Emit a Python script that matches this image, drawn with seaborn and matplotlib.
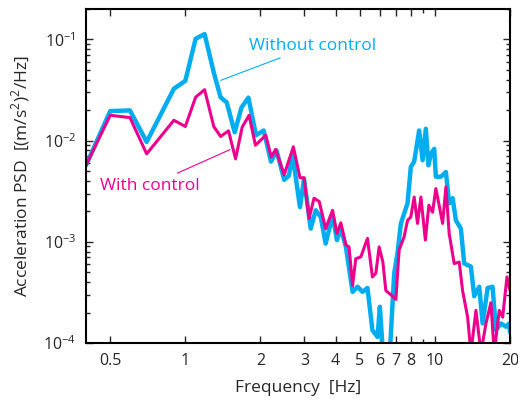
import seaborn as sns
import matplotlib.pyplot as plt
import numpy as np
import pandas as pd

# Without control (cyan)
freq_wo = [0.40, 0.50, 0.60, 0.70, 0.90, 1.00, 1.10, 1.195, 1.30, 1.385,
           1.465, 1.577, 1.68, 1.79, 1.92, 2.06, 2.205, 2.32, 2.49, 2.60,
           2.69, 2.88, 2.99, 3.18, 3.33, 3.49, 3.65, 3.89, 4.05, 4.20,
           4.40, 4.68, 4.90, 5.13, 5.37, 5.62, 5.89, 6.02, 6.19, 6.60,
           6.87, 7.08, 7.31, 7.53, 7.77, 8.01, 8.26, 8.65, 8.93, 9.20,
           9.42, 9.64, 9.94, 10.09, 10.57, 11.07, 11.41, 11.78, 12.14, 12.71,
           13.11, 13.94, 14.38, 15.06, 15.53, 16.27, 17.03, 17.57, 18.40, 19.27,
           19.87, 20.0]
psd_wo = [0.0057, 0.0196, 0.0199, 0.0097, 0.0326, 0.039, 0.1016, 0.113, 0.0472, 0.0268,
          0.0239, 0.0121, 0.0213, 0.0266, 0.0113, 0.0126, 0.0062, 0.0080, 0.0041, 0.0045,
          0.0073, 0.0022, 0.0042, 0.00135, 0.00205, 0.00176, 0.00096, 0.00183, 0.00104, 0.00135,
          0.00089, 0.00032, 0.00036, 0.00032, 0.00035, 0.000134, 0.000115, 0.000228, 0.00008, 0.00008,
          0.000486, 0.00077, 0.00152, 0.0019, 0.0024, 0.0055, 0.0062, 0.0126, 0.0064, 0.0131,
          0.0057, 0.0074, 0.0083, 0.0044, 0.0044, 0.0049, 0.0024, 0.0027, 0.00163, 0.00135,
          0.00061, 0.00057, 0.00029, 0.00036, 0.000156, 0.00035, 0.00036, 0.000134, 0.000156, 0.000145,
          0.000156, 0.000128]

# With control (magenta)
freq_w = [0.40, 0.50, 0.60, 0.70, 0.90, 1.00, 1.10, 1.195, 1.30, 1.385,
          1.49, 1.59, 1.69, 1.80, 1.91, 2.10, 2.21, 2.30, 2.49, 2.71,
          2.88, 2.99, 3.13, 3.28, 3.44, 3.65, 3.89, 4.05, 4.20, 4.40,
          4.53, 4.68, 4.82, 5.05, 5.37, 5.62, 5.80, 5.98, 6.19, 6.36,
          6.66, 6.98, 7.19, 7.53, 7.77, 8.01, 8.26, 8.52, 8.79, 9.16,
          9.46, 9.79, 10.09, 10.40, 10.74, 11.07, 11.41, 11.95, 12.52, 12.91,
          13.53, 13.94, 14.61, 15.30, 16.02, 16.77, 17.29, 18.11, 18.69, 19.45,
          20.0]
psd_w = [0.0057, 0.0178, 0.0169, 0.0074, 0.0159, 0.0138, 0.0269, 0.0319, 0.0138, 0.0110,
         0.0125, 0.0066, 0.0136, 0.0178, 0.0090, 0.0113, 0.0069, 0.0082, 0.0046, 0.0087,
         0.0043, 0.0043, 0.0017, 0.0027, 0.0025, 0.00135, 0.00205, 0.00121, 0.00154, 0.00093,
         0.00089, 0.00037, 0.00068, 0.00071, 0.00108, 0.00045, 0.00049, 0.00089, 0.00063, 0.00033,
         0.00030, 0.00027, 0.00083, 0.00112, 0.00163, 0.00176, 0.00277, 0.00152, 0.00277, 0.00104,
         0.0023, 0.00196, 0.00336, 0.0023, 0.00152, 0.00348, 0.00121, 0.00061, 0.00063, 0.00033,
         0.00018, 0.00008, 0.00021, 0.00008, 0.000156, 0.00025, 0.00008, 0.00021, 0.00018, 0.00045,
         0.00033]

xticks = [0.5, 1, 2, 3, 4, 5, 6, 7, 8, 10, 20]
xticklabels = ["0.5", "1", "2", "3", "4", "5", "6", "7", "8", "10", "20"]

cyan = "#00aeef"
magenta = "#ec008c"

sns.set_style("ticks")
plt.rcParams['font.family'] = ['Open Sans', 'DejaVu Sans']
plt.rcParams['mathtext.fontset'] = 'custom'
plt.rcParams['mathtext.rm'] = 'Open Sans'

fig = plt.figure(figsize=(5.18, 4.04), dpi=100)
ax = fig.add_axes([86/518, 1-343/404, (510-86)/518, (343-9)/404])

sns.lineplot(x=freq_wo, y=psd_wo, color=cyan, lw=3.2, ax=ax)
sns.lineplot(x=freq_w, y=psd_w, color=magenta, lw=2.2, ax=ax)

ax.set_xscale("log")
ax.set_yscale("log")
ax.set_xlim(0.4, 20)
ax.set_ylim(1e-4, 0.2)

ax.set_xticks(xticks)
ax.set_xticklabels(xticklabels)
ax.set_xticks([9], minor=True)
ax.tick_params(which="both", direction="in", top=True, right=True, labelsize=11.5, pad=7, width=1)
ax.tick_params(which="major", length=5)
ax.tick_params(which="minor", length=3)
for s in ax.spines.values():
    s.set_linewidth(1.5)
    s.set_color("black")

ax.set_xlabel("Frequency  [Hz]", fontsize=12.5, labelpad=8)
ax.set_ylabel("Acceleration PSD  [(m/s$^2$)$^2$/Hz]", fontsize=12.5, labelpad=8)

# labels with leader lines
ax.annotate("Without control", xy=(1.385, 0.0394), xytext=(1.80, 0.087),
            color=cyan, fontsize=12.5, va="center", ha="left",
            arrowprops=dict(arrowstyle="-", color=cyan, lw=0.8, shrinkA=2, shrinkB=0))
ax.annotate("With control", xy=(1.51, 0.00815), xytext=(1.14, 0.0036),
            color=magenta, fontsize=12.5, va="center", ha="right",
            arrowprops=dict(arrowstyle="-", color=magenta, lw=0.8, shrinkA=2, shrinkB=0))

plt.savefig("out.png", dpi=100)
